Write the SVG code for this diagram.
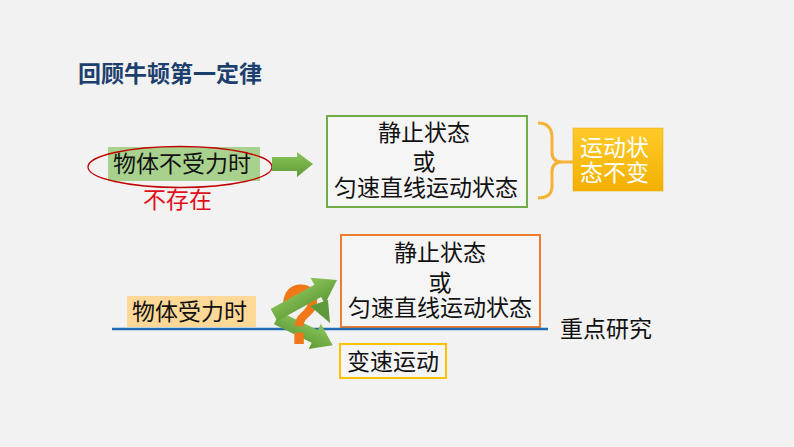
<svg xmlns="http://www.w3.org/2000/svg" width="794" height="447" viewBox="0 0 794 447">
<defs>
<style>
.t{font-family:"Noto Sans CJK SC","Liberation Sans",sans-serif;font-size:23px;fill:#111;}
.c{text-anchor:middle;}
</style>
<linearGradient id="gA" x1="0" y1="0" x2="0" y2="1">
<stop offset="0" stop-color="#8cc45c"/><stop offset="1" stop-color="#5e9a35"/>
</linearGradient>
<linearGradient id="gB" x1="0" y1="0" x2="0" y2="1">
<stop offset="0" stop-color="#ffcb2a"/><stop offset="1" stop-color="#f2b000"/>
</linearGradient>
</defs>
<rect width="794" height="447" fill="#f2f2f2"/>
<text x="78" y="82" style="font-family:'Noto Sans CJK SC',sans-serif;font-size:23px;font-weight:bold;fill:#1c3f6e">回顾牛顿第一定律</text>

<g id="n1">
<rect x="108" y="147" width="152" height="34" fill="#a9d18e"/>
<text class="t" x="113" y="172">物体不受力时</text>
<ellipse cx="180" cy="167" rx="92" ry="20.5" fill="none" stroke="#c00000" stroke-width="1.3"/>
<text class="t" x="143" y="208" style="fill:#e0101a">不存在</text>
</g>

<g id="n2">
<rect x="327" y="116" width="200" height="91" fill="#f5f5f5" stroke="#70ad47" stroke-width="2"/>
<text class="t c" x="424" y="141">静止状态</text>
<text class="t c" x="424" y="170">或</text>
<text class="t c" x="426" y="196">匀速直线运动状态</text>
</g>

<g id="n3">
<rect x="573" y="128" width="90" height="63" fill="url(#gB)" stroke="#e8a800" stroke-width="0.5"/>
<text class="t" x="580" y="156" style="fill:#fff">运动状</text>
<text class="t" x="580" y="181" style="fill:#fff">态不变</text>
</g>

<g id="n4">
<rect x="341" y="235" width="199" height="92" fill="#f5f5f5" stroke="#ed7d31" stroke-width="2"/>
<text class="t c" x="440" y="261">静止状态</text>
<text class="t c" x="440" y="291">或</text>
<text class="t c" x="440" y="316">匀速直线运动状态</text>
</g>

<g id="n5">
<rect x="127" y="296" width="129" height="31" fill="#fdd897"/>
<text class="t" x="132" y="320">物体受力时</text>
</g>

<g id="n6">
<rect x="340" y="344" width="106" height="34" fill="#f5f5f5" stroke="#ffc000" stroke-width="2"/>
<text class="t" x="347" y="370">变速运动</text>
</g>

<g id="n7">
<text class="t" x="560" y="337">重点研究</text>
</g>

<g id="connectors">
<polygon points="272,157 297,157 297,152 313,164 297,177 297,171 272,171" fill="url(#gA)"/>
<path d="M538,123 Q552,123 552,138 L552,152 Q552,162 562,162 L573,162 M562,162 Q552,162 552,172 L552,186 Q552,198 538,198" fill="none" stroke="#f5b335" stroke-width="3"/>
<line x1="112" y1="329" x2="548" y2="329" stroke="#1f6cb5" stroke-width="2.5"/>
<polygon points="0,-7 42,-7 42,-14 62,0 42,14 42,7 0,7" fill="url(#gA)" transform="translate(277,318) rotate(26)"/>
<text x="0" y="0" transform="translate(280,344) scale(0.78,1)" style="font-family:'Liberation Sans',sans-serif;font-size:86px;font-weight:bold;fill:#f07818">?</text>
<polygon points="310,306 328,300 330,323" fill="#5f9a3a"/>
<polygon points="0,-7 50,-7 50,-15 72,0 50,15 50,7 0,7" fill="url(#gA)" transform="translate(274,315) rotate(-29)"/>
</g>
</svg>
